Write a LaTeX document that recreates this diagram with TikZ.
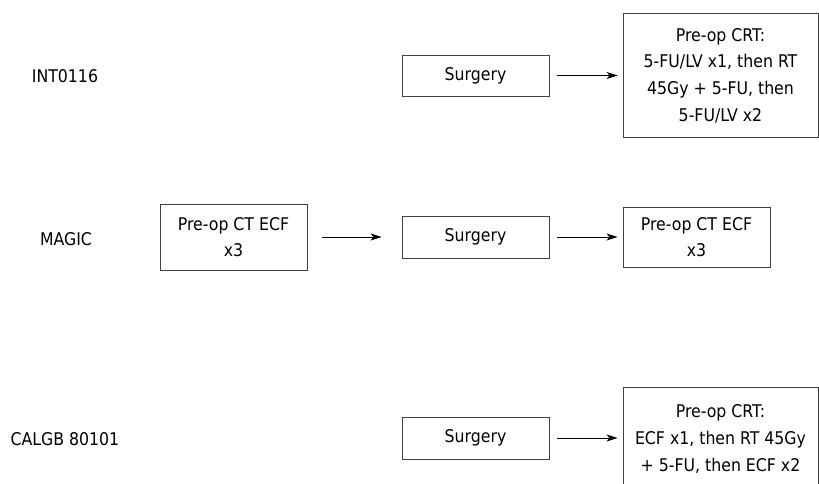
\documentclass[tikz,border=0pt]{standalone}
\usepackage{fontspec}
\setmainfont{DejaVu Sans Condensed}
\usetikzlibrary{arrows.meta}
\begin{document}
\begin{tikzpicture}[x=1pt,y=-1pt,
  txt/.style={font=\fontsize{17.5pt}{26.7pt}\selectfont, text=black},
  box/.style={txt, draw=black!75, line width=0.9pt, rectangle, align=center, inner sep=0pt},
  conn/.style={draw=black, line width=0.9pt, -{Stealth[length=11pt,width=7pt,inset=3pt]}}]
\useasboundingbox (0,0) rectangle (819,484);
% labels
\node[txt] (l1) at (65,76) {INT0116};
\node[txt] (l2) at (66,239) {MAGIC};
\node[txt] (l3) at (65,439) {CALGB 80101};
% row 1
\node[box, minimum width=147pt, minimum height=41pt] (s1) at (475.5,75.5) {\raisebox{-1pt}{Surgery}};
\node[box, minimum width=195pt, minimum height=124pt] (b1) at (720.5,75.5) {Pre-op CRT:\\5-FU/LV x1, then RT\\45Gy + 5-FU, then\\5-FU/LV x2};
% row 2
\node[box, minimum width=147pt, minimum height=66pt] (p2) at (233.5,237) {Pre-op CT ECF\\x3};
\node[box, minimum width=147pt, minimum height=42pt] (s2) at (475.5,237) {\raisebox{-1pt}{Surgery}};
\node[box, minimum width=147pt, minimum height=60pt] (b2) at (696.5,237) {Pre-op CT ECF\\x3};
% row 3
\node[box, minimum width=147pt, minimum height=42pt] (s3) at (475.5,438) {\raisebox{-1pt}{Surgery}};
\node[box, minimum width=195pt, minimum height=104pt] (b3) at (720.5,439) {Pre-op CRT:\\ECF x1, then RT 45Gy\\+ 5-FU, then ECF x2};
% connectors
\draw[conn, shorten <=8pt, shorten >=5pt] (s1) -- (b1);
\draw[conn, shorten <=15pt, shorten >=20pt] (p2) -- (s2);
\draw[conn, shorten <=8pt, shorten >=5pt] (s2) -- (b2);
\draw[conn, shorten <=8pt, shorten >=5pt] (s3.east) -- (s3.east -| b3.west);
\end{tikzpicture}
\end{document}
